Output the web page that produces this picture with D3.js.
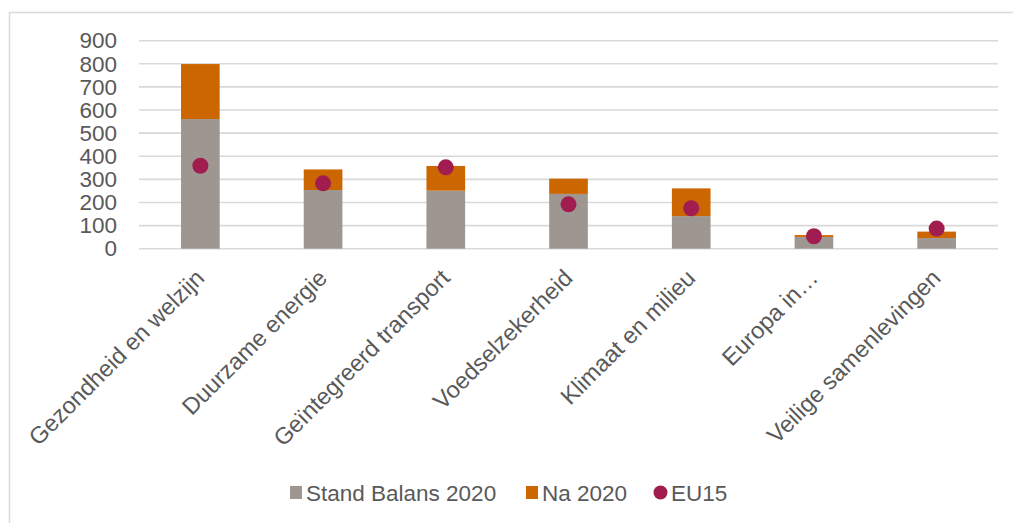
<!DOCTYPE html>
<html>
<head>
<meta charset="utf-8">
<script src="https://cdn.jsdelivr.net/npm/d3@7"></script>
<style>
  html, body { margin: 0; padding: 0; background: #fff; }
  svg { display: block; font-family: "Liberation Sans", Arial, sans-serif; }
</style>
</head>
<body>
<svg id="chart" width="1013" height="523"></svg>
<script>
// Budget per mission area
const categories = ["Gezondheid en welzijn", "Duurzame energie", "Geïntegreerd transport",
  "Voedselzekerheid", "Klimaat en milieu", "Europa in…", "Veilige samenlevingen"];
const standBalans = [561, 254, 251, 237, 141, 51, 46];
const na2020 = [238, 89, 107, 66, 120, 8, 28];
const eu15 = [359, 283, 352, 192, 175, 54, 87];
const yTicks = [0, 100, 200, 300, 400, 500, 600, 700, 800, 900];
const seriesNames = ["Stand Balans 2020", "Na 2020", "EU15"];

const colors = { stand: "#9e9690", na: "#cc6600", eu: "#a21d4f", text: "#595959", grid: "#d9d9d9" };

const svg = d3.select("#chart");

// outer frame
svg.append("rect")
  .attr("x", 9.5).attr("y", 12.5)
  .attr("width", 1013).attr("height", 523)
  .attr("fill", "none").attr("stroke", colors.grid).attr("stroke-width", 1.5);

const x = d3.scaleBand().domain(categories).range([139, 998])
  .paddingInner(0.685).paddingOuter(0.3425);
const y = d3.scaleLinear().domain([0, 900]).range([248.7, 40.7]);

// gridlines
svg.append("g").selectAll("line").data(yTicks).join("line")
  .attr("x1", 139).attr("x2", 998)
  .attr("y1", d => y(d)).attr("y2", d => y(d))
  .attr("stroke", colors.grid).attr("stroke-width", 1.6);

// y axis labels
const yAxis = d3.axisLeft(y).tickValues(yTicks).tickSize(0).tickPadding(0);
const gy = svg.append("g").attr("transform", "translate(117,0)").call(yAxis);
gy.select(".domain").remove();
gy.selectAll("text").attr("fill", colors.text).attr("font-size", "22.5px")
  .style("font-family", "'Liberation Sans', Arial, sans-serif");

// stacked bars
const rows = categories.map((c, i) => ({ c, stand: standBalans[i], na: na2020[i] }));
const stack = d3.stack().keys(["stand", "na"])(rows);
const fills = [colors.stand, colors.na];
svg.append("g").selectAll("g").data(stack).join("g")
  .attr("fill", (d, i) => fills[i])
  .selectAll("rect").data(d => d).join("rect")
  .attr("x", d => x(d.data.c))
  .attr("width", x.bandwidth())
  .attr("y", d => y(d[1]))
  .attr("height", d => y(d[0]) - y(d[1]));

// EU15 markers
svg.append("g").selectAll("circle").data(eu15).join("circle")
  .attr("cx", (d, i) => x(categories[i]) + x.bandwidth() / 2)
  .attr("cy", d => y(d))
  .attr("r", 8)
  .attr("fill", colors.eu);

// category labels, rotated
svg.append("g").selectAll("text").data(categories).join("text")
  .attr("transform", d => `translate(${x(d) + x.bandwidth() / 2 - 7},267) rotate(-45)`)
  .attr("text-anchor", "end")
  .attr("dy", "0.75em")
  .attr("fill", colors.text)
  .attr("font-size", "23.5px")
  .text(d => d);

// legend
const legend = svg.append("g");
const legendItems = [
  { name: seriesNames[0], color: colors.stand, shape: "rect", x: 290, tx: 306 },
  { name: seriesNames[1], color: colors.na, shape: "rect", x: 526, tx: 542 },
  { name: seriesNames[2], color: colors.eu, shape: "circle", x: 654, tx: 671 }
];
legendItems.forEach(it => {
  if (it.shape === "rect") {
    legend.append("rect").attr("x", it.x).attr("y", 486).attr("width", 12).attr("height", 13).attr("fill", it.color);
  } else {
    legend.append("circle").attr("cx", it.x + 6.5).attr("cy", 492.5).attr("r", 7).attr("fill", it.color);
  }
  legend.append("text").attr("x", it.tx).attr("y", 500.5)
    .attr("fill", colors.text).attr("font-size", "22.5px").text(it.name);
});
</script>
</body>
</html>
